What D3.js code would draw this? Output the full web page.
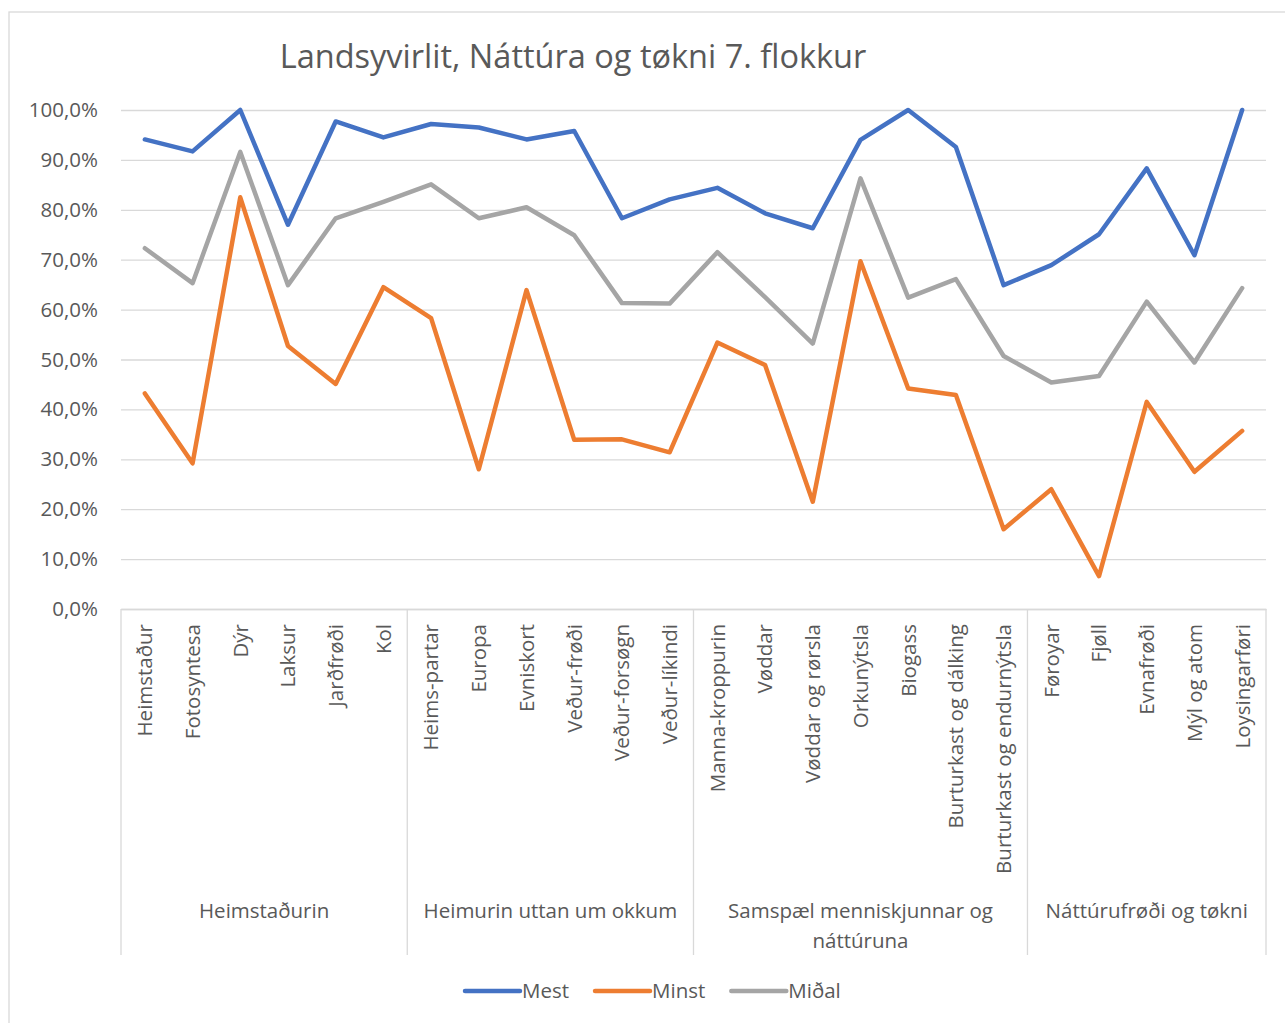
<!DOCTYPE html>
<html>
<head>
<meta charset="utf-8">
<title>Landsyvirlit</title>
<style>
	body { margin: 0; background: #fff; }
	svg text { font-family: "Open Sans", sans-serif; fill: #595959; }
	.grid line { stroke: #d9d9d9; stroke-width: 1.3; }
	.grid .domain { display: none; }
	.cat .domain { stroke: #d9d9d9; stroke-width: 1.3; }
</style>
<script src="https://d3js.org/d3.v7.min.js"></script>
</head>
<body>
<svg id="chart"></svg>
<script>
	var categories = ["Heimstaður", "Fotosyntesa", "Dýr", "Laksur", "Jarðfrøði", "Kol",
		"Heims-partar", "Europa", "Evniskort", "Veður-frøði", "Veður-forsøgn", "Veður-líkindi",
		"Manna-kroppurin", "Vøddar", "Vøddar og rørsla", "Orkunýtsla", "Biogass", "Burturkast og dálking", "Burturkast og endurnýtsla",
		"Føroyar", "Fjøll", "Evnafrøði", "Mýl og atom", "Loysingarføri"];
	var groupLabels = [["Heimstaðurin"], ["Heimurin uttan um okkum"], ["Samspæl menniskjunnar og", "náttúruna"], ["Náttúrufrøði og tøkni"]];
	var groupSizes = [6, 6, 7, 5];

	var mest  = [0.941, 0.917, 1.000, 0.770, 0.977, 0.945, 0.972, 0.965, 0.941, 0.958, 0.783, 0.821,
		0.844, 0.793, 0.763, 0.940, 1.000, 0.926, 0.649, 0.689, 0.751, 0.883, 0.709, 1.000];
	var minst = [0.432, 0.292, 0.825, 0.527, 0.451, 0.645, 0.583, 0.280, 0.639, 0.339, 0.340, 0.314,
		0.534, 0.489, 0.215, 0.697, 0.442, 0.429, 0.160, 0.240, 0.066, 0.415, 0.275, 0.357];
	var midal = [0.723, 0.653, 0.916, 0.649, 0.783, 0.816, 0.851, 0.783, 0.805, 0.749, 0.613, 0.612,
		0.715, 0.625, 0.532, 0.863, 0.624, 0.661, 0.507, 0.454, 0.467, 0.616, 0.494, 0.643];

	var seriesNames = ["Mest", "Minst", "Miðal"];
	var seriesColors = ["#4472c4", "#ed7d31", "#a5a5a5"];
	var yTicks = [0, 0.1, 0.2, 0.3, 0.4, 0.5, 0.6, 0.7, 0.8, 0.9, 1.0];

	var W = 1285, H = 1023;
	var plot = {left: 121, right: 1266, top: 110, bottom: 609};
	var catBottom = 955;
	var fs = "20.5px";

	var svg = d3.select("#chart").attr("width", W).attr("height", H);

	// chart frame
	svg.append("rect")
		.attr("x", 9).attr("y", 12)
		.attr("width", W + 20).attr("height", H + 20)
		.attr("fill", "#fff").attr("stroke", "#d9d9d9").attr("stroke-width", 1.3);

	var x = d3.scaleBand().domain(categories).range([plot.left, plot.right]).padding(0);
	var y = d3.scaleLinear().domain([0, 1]).range([plot.bottom, plot.top]);

	var locale = d3.formatLocale({decimal: ",", thousands: ".", grouping: [3], currency: ["", ""]});
	var pct = locale.format(".1%");

	// y axis + gridlines
	svg.append("g")
		.attr("class", "grid")
		.attr("transform", "translate(" + plot.left + ",0)")
		.call(d3.axisLeft(y).tickValues(yTicks).tickSize(-(plot.right - plot.left)).tickPadding(23).tickFormat(pct))
		.selectAll("text")
		.style("font-size", fs);

	// category axis
	var catAxis = svg.append("g")
		.attr("class", "cat")
		.attr("transform", "translate(0," + plot.bottom + ")")
		.call(d3.axisBottom(x).tickSize(0).tickSizeOuter(0));
	catAxis.selectAll(".tick text")
		.attr("transform", "rotate(-90)")
		.attr("text-anchor", "end")
		.attr("x", -15)
		.attr("y", 0)
		.attr("dy", ".36em")
		.style("font-size", fs);

	// group separators and labels
	var bounds = [0];
	groupSizes.forEach(function(n, i) { bounds.push(bounds[i] + n); });
	var edgeX = function(i) { return i < categories.length ? x(categories[i]) : plot.right; };

	svg.append("g").selectAll("line")
		.data(bounds)
		.enter().append("line")
		.attr("x1", function(d) { return edgeX(d); })
		.attr("x2", function(d) { return edgeX(d); })
		.attr("y1", plot.bottom)
		.attr("y2", catBottom)
		.attr("stroke", "#d9d9d9").attr("stroke-width", 1.3);

	var gl = svg.append("g").selectAll("text")
		.data(groupLabels)
		.enter().append("text")
		.attr("text-anchor", "middle")
		.attr("y", 918)
		.style("font-size", fs);
	gl.each(function(lines, i) {
		var cx = (edgeX(bounds[i]) + edgeX(bounds[i + 1])) / 2;
		d3.select(this).selectAll("tspan")
			.data(lines)
			.enter().append("tspan")
			.attr("x", cx)
			.attr("dy", function(d, j) { return j === 0 ? 0 : 30; })
			.text(function(d) { return d; });
	});

	// lines
	var line = d3.line()
		.x(function(d, i) { return x(categories[i]) + x.bandwidth() / 2; })
		.y(function(d) { return y(d); });

	var allSeries = [mest, minst, midal];
	svg.append("g").selectAll("path")
		.data(allSeries)
		.enter().append("path")
		.attr("d", line)
		.attr("fill", "none")
		.attr("stroke", function(d, i) { return seriesColors[i]; })
		.attr("stroke-width", 4.5)
		.attr("stroke-linejoin", "round")
		.attr("stroke-linecap", "round");

	// title
	svg.append("text")
		.attr("x", 573)
		.attr("y", 68)
		.attr("text-anchor", "middle")
		.style("font-size", "32.5px")
		.text("Landsyvirlit, Náttúra og tøkni 7. flokkur");

	// legend
	var lx = 465, ly = 991;
	var legend = svg.append("g");
	seriesNames.forEach(function(name, i) {
		legend.append("line")
			.attr("x1", lx).attr("x2", lx + 55)
			.attr("y1", ly).attr("y2", ly)
			.attr("stroke", seriesColors[i]).attr("stroke-width", 4.5)
			.attr("stroke-linecap", "round");
		var t = legend.append("text")
			.attr("x", lx + 57).attr("y", ly + 7)
			.style("font-size", fs)
			.text(name);
		lx = lx + 57 + t.node().getComputedTextLength() + 26;
	});
</script>
</body>
</html>
